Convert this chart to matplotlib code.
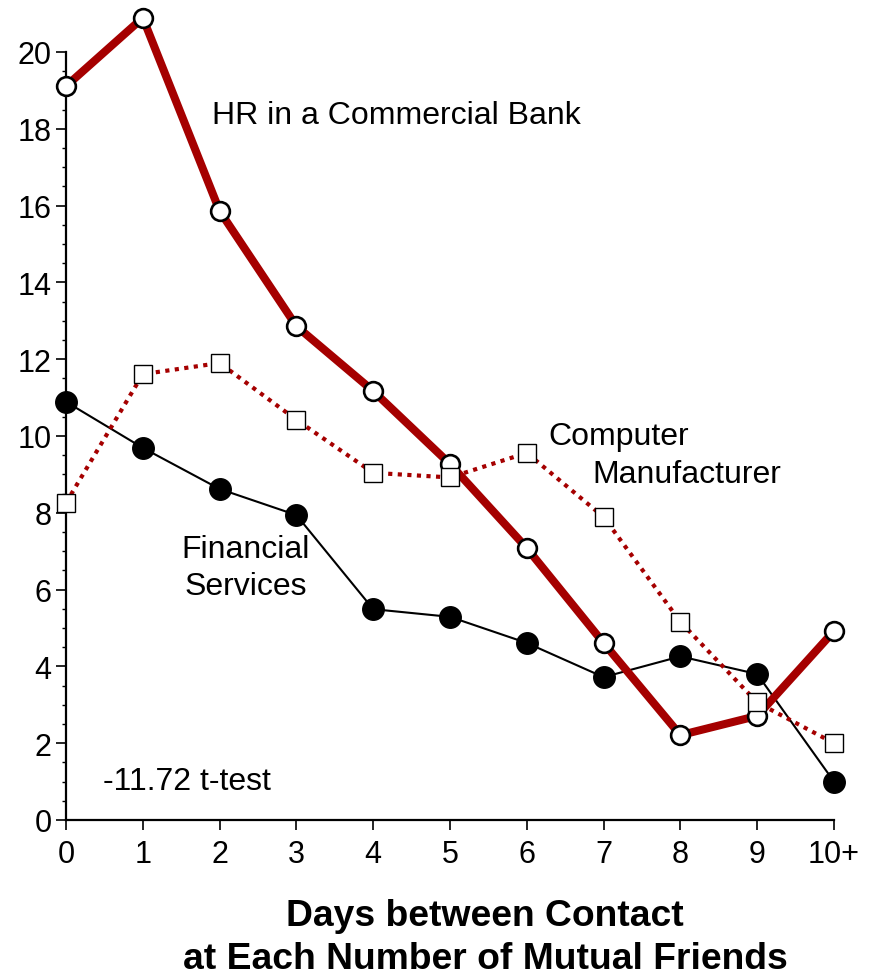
#!/usr/bin/env python3

import matplotlib
matplotlib.use("Agg")
import matplotlib.pyplot as plt
from matplotlib.ticker import MultipleLocator

plt.rcParams['font.family'] = ['Liberation Sans', 'DejaVu Sans']

days = [0, 1, 2, 3, 4, 5, 6, 7, 8, 9, 10]
day_labels = ['0', '1', '2', '3', '4', '5', '6', '7', '8', '9', '10+']

hr_bank = [19.11, 20.89, 15.86, 12.86, 11.17, 9.27, 7.08, 4.61, 2.21, 2.71, 4.92]
computer = [8.26, 11.61, 11.90, 10.42, 9.04, 8.92, 9.56, 7.89, 5.16, 3.06, 2.0]
financial = [10.89, 9.69, 8.62, 7.94, 5.49, 5.29, 4.61, 3.72, 4.26, 3.80, 1.0]

red = '#a50000'

fig = plt.figure(figsize=(8.7, 9.79), dpi=100)
ax = fig.add_axes([0.0759, 0.1614, 0.8827, 0.7845])

ax.plot(days, financial, color='black', lw=1.5, marker='o', ms=15.5,
        mfc='black', mec='black', clip_on=False, zorder=3)
ax.plot(days, hr_bank, color=red, lw=5.8, marker='o', ms=13.5,
        mfc='white', mec='black', mew=1.9, clip_on=False, zorder=4)
ax.plot(days, computer, color=red, lw=3, ls=(0, (1, 1.3)), marker='s', ms=13.5,
        mfc='white', mec='black', mew=1.0, clip_on=False, zorder=5)

fs = 23
ax.text(1.9, 18.36, 'HR in a Commercial Bank', fontsize=fs, va='center')
ax.text(6.28, 10.0, 'Computer', fontsize=fs, va='center')
ax.text(6.86, 9.01, 'Manufacturer', fontsize=fs, va='center')
ax.text(2.34, 7.06, 'Financial', fontsize=fs, va='center', ha='center')
ax.text(2.34, 6.09, 'Services', fontsize=fs, va='center', ha='center')
ax.text(0.48, 1.02, '-11.72 t-test', fontsize=fs, va='center')

ax.set_xlim(0, 10)
ax.set_ylim(0, 20)
ax.set_xticks(days)
ax.set_xticklabels(day_labels)
ax.yaxis.set_major_locator(MultipleLocator(2))
ax.yaxis.set_minor_locator(MultipleLocator(0.5))

for s in ['top', 'right']:
    ax.spines[s].set_visible(False)
for s in ['left', 'bottom']:
    ax.spines[s].set_linewidth(1.6)

ax.tick_params(axis='both', which='major', labelsize=22, length=7.5, width=1.2)
ax.tick_params(axis='x', which='major', pad=6)
ax.tick_params(axis='y', which='major', pad=3)
ax.tick_params(axis='y', which='minor', length=3, width=1.0)

ax.set_xlabel('Days between Contact\nat Each Number of Mutual Friends',
              fontsize=26.8, fontweight='bold', linespacing=1.3)
ax.xaxis.set_label_coords(0.5456, -0.1015)

fig.savefig('out.png', dpi=100)
